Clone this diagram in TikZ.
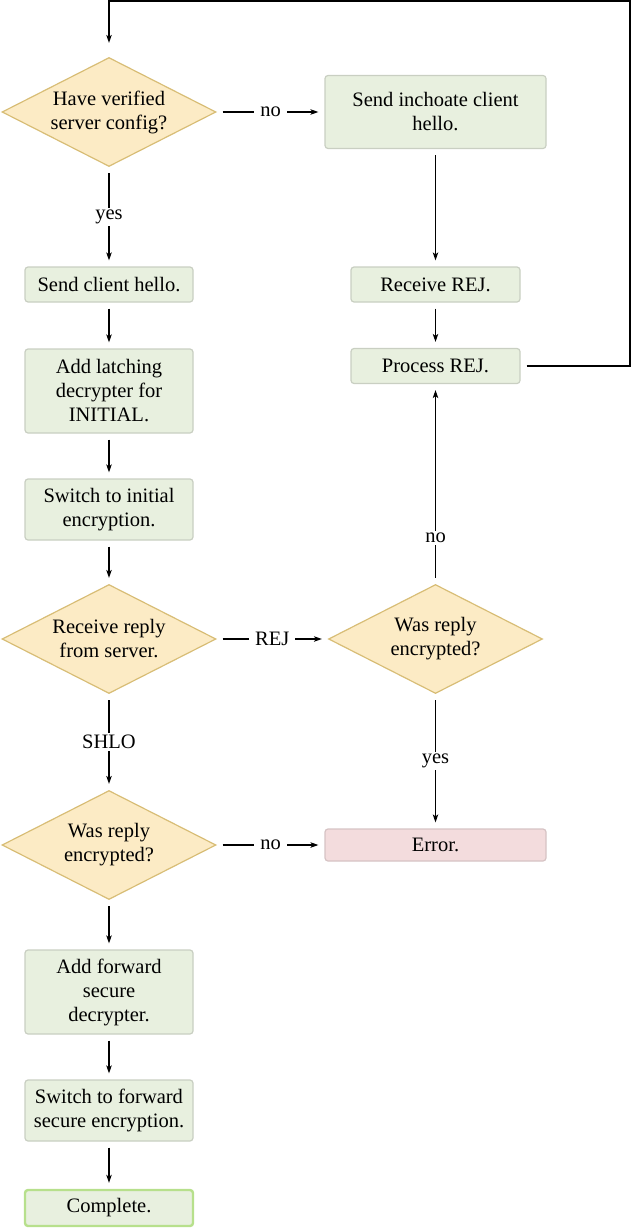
\documentclass[tikz,border=0pt]{standalone}
\usepackage{fontspec}
\setmainfont{Liberation Serif}
\usetikzlibrary{shapes.geometric,arrows.meta}

\definecolor{stepfill}{HTML}{E8F0DF}
\definecolor{stepline}{HTML}{C9CFC2}
\definecolor{askfill}{HTML}{FCEBC5}
\definecolor{askline}{HTML}{D8BD76}
\definecolor{errfill}{HTML}{F3DCDD}
\definecolor{errline}{HTML}{D6C3C4}
\definecolor{doneline}{HTML}{B7E08C}

\tikzset{
  txt/.style={font=\fontsize{20.5}{24}\selectfont, align=center},
  stepbox/.style={txt, rectangle, rounded corners=3pt, draw=stepline, fill=stepfill,
    line width=1.2pt, minimum width=168pt, inner sep=0pt},
  errbox/.style={stepbox, draw=errline, fill=errfill},
  donebox/.style={stepbox, draw=doneline, line width=2.4pt},
  ask/.style={diamond, draw=askline, fill=askfill, line width=1.2pt,
    minimum width=214pt, minimum height=109pt, inner sep=0pt},
  asktext/.style={txt, inner sep=0pt},
  flow/.style={-{Stealth[length=8pt,width=5.5pt,inset=2pt]}, line width=1.1pt,
    shorten <=6pt, shorten >=6pt},
  cond/.style={txt, fill=white, inner xsep=6pt, inner ysep=2pt}
}

\begin{document}
\begin{tikzpicture}[x=1pt,y=-1pt]
  \useasboundingbox (0,0) rectangle (631,1228);

  % left column
  \node[ask, label={[asktext]center:Have verified\\server config?}] (cfg) at (109,112) {};
  \node[stepbox, minimum height=35pt] (hello) at (109,284.5) {Send client hello.};
  \node[stepbox, minimum height=84pt] (latch) at (109,391) {Add latching\\decrypter for\\INITIAL.};
  \node[stepbox, minimum height=61pt] (initenc) at (109,509.5) {Switch to initial\\encryption.};
  \node[ask, label={[asktext]center:Receive reply\\from server.}] (reply) at (109,639) {};
  \node[ask, label={[asktext]center:Was reply\\encrypted?}] (shloenc) at (109,845) {};
  \node[stepbox, minimum height=84pt] (fwddec) at (109,992) {Add forward\\secure\\decrypter.};
  \node[stepbox, minimum height=61pt] (fwdenc) at (109,1110.5) {Switch to forward\\secure encryption.};
  \node[donebox, minimum height=36pt] (done) at (109,1208) {Complete.};

  % right column
  \node[stepbox, minimum width=221pt, minimum height=73pt] (inch) at (435.5,112) {Send inchoate client\\hello.};
  \node[stepbox, minimum width=169pt, minimum height=35pt] (rej) at (435.5,284.5) {Receive REJ.};
  \node[stepbox, minimum width=169pt, minimum height=35pt] (proc) at (435.5,366) {Process REJ.};
  \node[ask, label={[asktext]center:Was reply\\encrypted?}] (rejenc) at (435.5,639) {};
  \node[errbox, minimum width=221pt, minimum height=32pt] (err) at (435.5,845) {Error.};

  % connectors
  \draw[flow] (cfg) -- node[cond] {no} (inch);
  \draw[flow] (cfg) -- node[cond] {yes} (hello);
  \draw[flow] (hello) -- (latch);
  \draw[flow] (latch) -- (initenc);
  \draw[flow] (initenc) -- (reply);
  \draw[flow] (reply) -- node[cond] {REJ} (rejenc);
  \draw[flow] (reply) -- node[cond] {SHLO} (shloenc);
  \draw[flow] (shloenc) -- node[cond] {no} (err);
  \draw[flow] (shloenc) -- (fwddec);
  \draw[flow] (fwddec) -- (fwdenc);
  \draw[flow] (fwdenc) -- (done);
  \draw[flow] (inch) -- (rej);
  \draw[flow] (rej) -- (proc);
  \draw[flow] (rejenc) -- node[cond, pos=0.23] {no} (proc);
  \draw[flow] (rejenc) -- node[cond] {yes} (err);
  \draw[flow, shorten >=14pt] (proc) -- (630,366) -- (630,1) -| (cfg);
\end{tikzpicture}
\end{document}
